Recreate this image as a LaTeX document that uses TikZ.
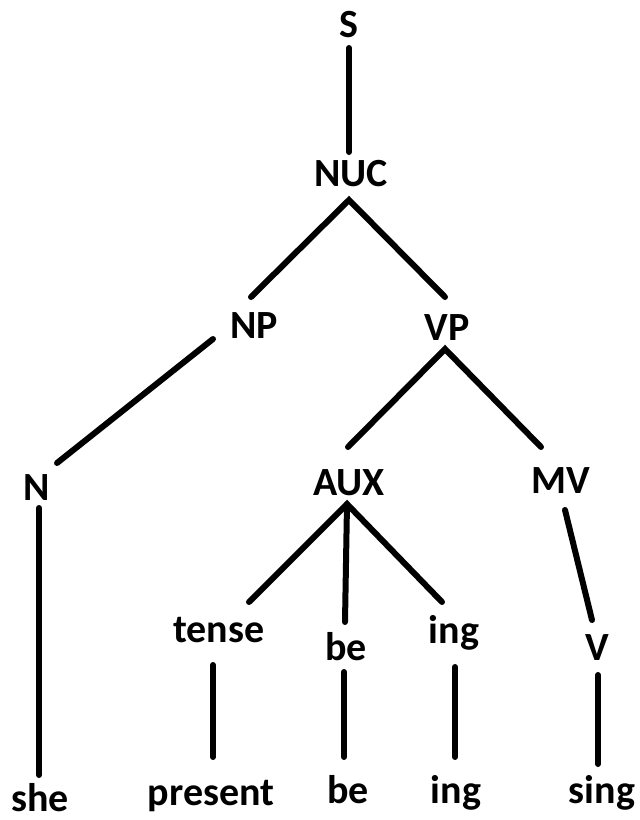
\documentclass[tikz,border=0pt]{standalone}
\usepackage{fontspec}
\setmainfont{Carlito}
\usetikzlibrary{calc}
\tikzset{
  lbl/.style={anchor=base, inner sep=0pt, font=\fontsize{40}{48}\selectfont\bfseries},
  edge/.style={line width=6pt, line cap=round}
}
\begin{document}
\begin{tikzpicture}[x=1pt,y=-1pt]
\useasboundingbox[fill=white] (0,0) rectangle (640,820);
\node[lbl] (S) at (349,37) {S};
\node[lbl] (NUC) at (351,186) {NUC};
\node[lbl] (NP) at (254,338) {NP};
\node[lbl] (VP) at (447,340) {VP};
\node[lbl] (N) at (37,500) {N};
\node[lbl] (AUX) at (349,495) {AUX};
\node[lbl] (MV) at (561,493) {MV};
\node[lbl] (tense) at (219,642) {tense};
\node[lbl] (be1) at (346,660) {be};
\node[lbl] (ing1) at (454,643) {ing};
\node[lbl] (V) at (597,660) {V};
\node[lbl] (she) at (40,811) {she};
\node[lbl] (present) at (211,805) {present};
\node[lbl] (be2) at (348,803) {be};
\node[lbl] (ing2) at (456,803) {ing};
\node[lbl] (sing) at (602,803) {sing};

\draw[edge] ($(S.base)+(0,11)$) -- ($(NUC.base)+(-2,-34)$);
\draw[edge] ($(NP.base)+(-3,-41)$) -- ($(NUC.base)+(-2,14)$) -- ($(VP.base)+(-2,-43)$);
\draw[edge] ($(NP.base)+(-41,1)$) -- ($(N.base)+(20,-37)$);
\draw[edge] ($(AUX.base)+(-1,-48)$) -- ($(VP.base)+(-2,9)$) -- ($(MV.base)+(-20,-46)$);
\draw[edge] ($(N.base)+(2,8)$) -- ($(she.base)+(-1,-36)$);
\draw[edge] ($(tense.base)+(30,-40)$) -- ($(AUX.base)+(-2,9)$) -- ($(ing1.base)+(-12,-41)$);
\draw[edge] ($(AUX.base)+(-2,9)$) -- ($(be1.base)+(-1,-38)$);
\draw[edge] ($(MV.base)+(4,17)$) -- ($(V.base)+(-5,-40)$);
\draw[edge] ($(tense.base)+(-6,23)$) -- ($(present.base)+(2,-48)$);
\draw[edge] ($(be1.base)+(-2,12)$) -- ($(be2.base)+(-4,-46)$);
\draw[edge] ($(ing1.base)+(1,24)$) -- ($(ing2.base)+(-1,-46)$);
\draw[edge] ($(V.base)+(1,15)$) -- ($(sing.base)+(-4,-39)$);
\end{tikzpicture}
\end{document}
